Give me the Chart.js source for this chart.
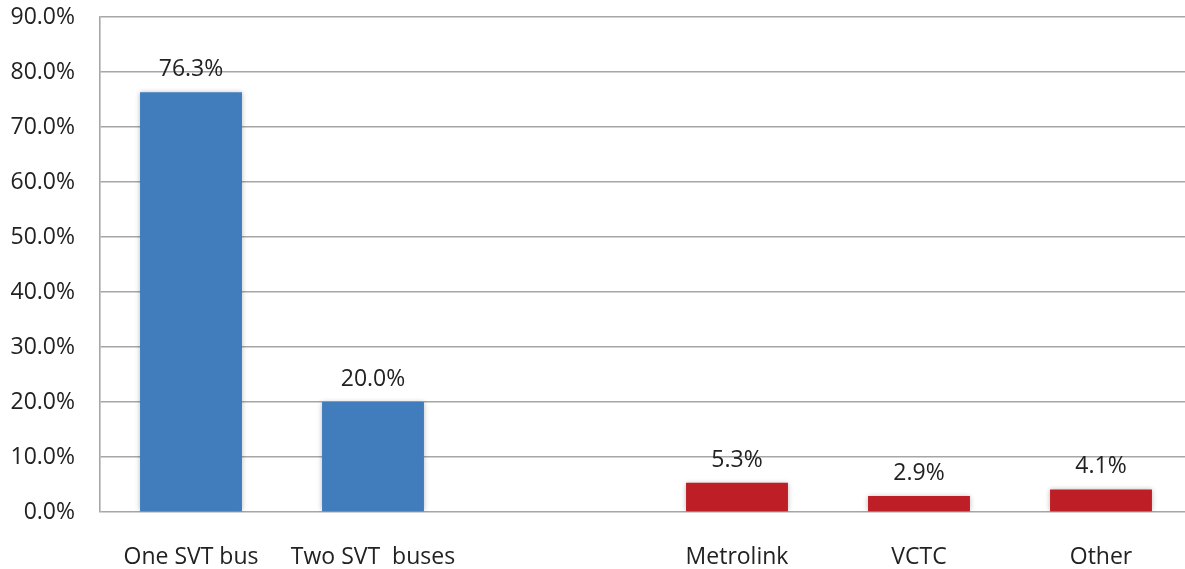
<!DOCTYPE html>
<html>
<head>
<meta charset="utf-8">
<script src="https://cdn.jsdelivr.net/npm/chart.js@4/dist/chart.umd.min.js"></script>
<style>
  html, body { margin: 0; padding: 0; background: #fff; overflow: hidden; }
  #wrap { width: 1192px; height: 569px; }
</style>
</head>
<body>
<div id="wrap"><canvas id="chart"></canvas></div>
<script>
const categories = ['One SVT bus', 'Two SVT  buses', '', 'Metrolink', 'VCTC', 'Other'];
const shares = [76.3, 20.0, null, 5.3, 2.9, 4.1];
const barColors = ['#417cbd', '#417cbd', '#417cbd', '#be1e25', '#be1e25', '#be1e25'];
const yTicks = [0, 10, 20, 30, 40, 50, 60, 70, 80, 90];

const FONT = "'Open Sans', 'DejaVu Sans', sans-serif";

// soft shadow around the bars
const barShadow = {
    id: 'barShadow',
    beforeDatasetsDraw(chart) {
        const c = chart.ctx;
        c.save();
        c.shadowColor = 'rgba(0,0,0,0.28)';
        c.shadowBlur = 5;
        c.shadowOffsetX = 0;
        c.shadowOffsetY = 0;
    },
    afterDatasetsDraw(chart) {
        chart.ctx.restore();
    }
};

// value labels above each bar
const valueLabels = {
    id: 'valueLabels',
    afterDraw(chart) {
        const c = chart.ctx;
        const meta = chart.getDatasetMeta(0);
        c.save();
        c.font = '23px ' + FONT;
        c.fillStyle = '#222';
        c.textAlign = 'center';
        c.textBaseline = 'alphabetic';
        meta.data.forEach((bar, i) => {
            if (shares[i] == null) return;
            c.fillText(shares[i].toFixed(1) + '%', bar.x, bar.y - 16);
        });
        c.restore();
    }
};

new Chart(document.getElementById('chart'), {
    type: 'bar',
    data: {
        labels: categories,
        datasets: [{
            data: shares,
            backgroundColor: barColors,
            borderWidth: 0,
            barPercentage: 0.56,
            categoryPercentage: 1.0
        }]
    },
    options: {
        responsive: true,
        maintainAspectRatio: false,
        animation: false,
        layout: { padding: 0 },
        plugins: { legend: { display: false }, tooltip: { enabled: false } },
        scales: {
            x: {
                afterFit(axis) { axis.height = 57; },
                grid: { display: false },
                border: { display: false },
                ticks: { color: '#222', font: { family: FONT, size: 23 }, padding: 24, maxRotation: 0, autoSkip: false }
            },
            y: {
                min: 0,
                max: 90,
                // fixed plot box: 100px for the labels, 17px above the top gridline
                afterFit(axis) {
                    axis.width = 100;
                    axis.paddingTop = 17;
                    axis.paddingBottom = 0;
                },
                afterBuildTicks(axis) { axis.ticks = yTicks.map(v => ({ value: v })); },
                grid: { color: '#a6a6a6', lineWidth: 1.6, drawTicks: false },
                border: { display: true, color: '#a6a6a6', width: 1.6 },
                ticks: {
                    color: '#222',
                    font: { family: FONT, size: 23 },
                    padding: 25,
                    callback: v => v.toFixed(1) + '%'
                }
            }
        }
    },
    plugins: [barShadow, valueLabels]
});
</script>
</body>
</html>
